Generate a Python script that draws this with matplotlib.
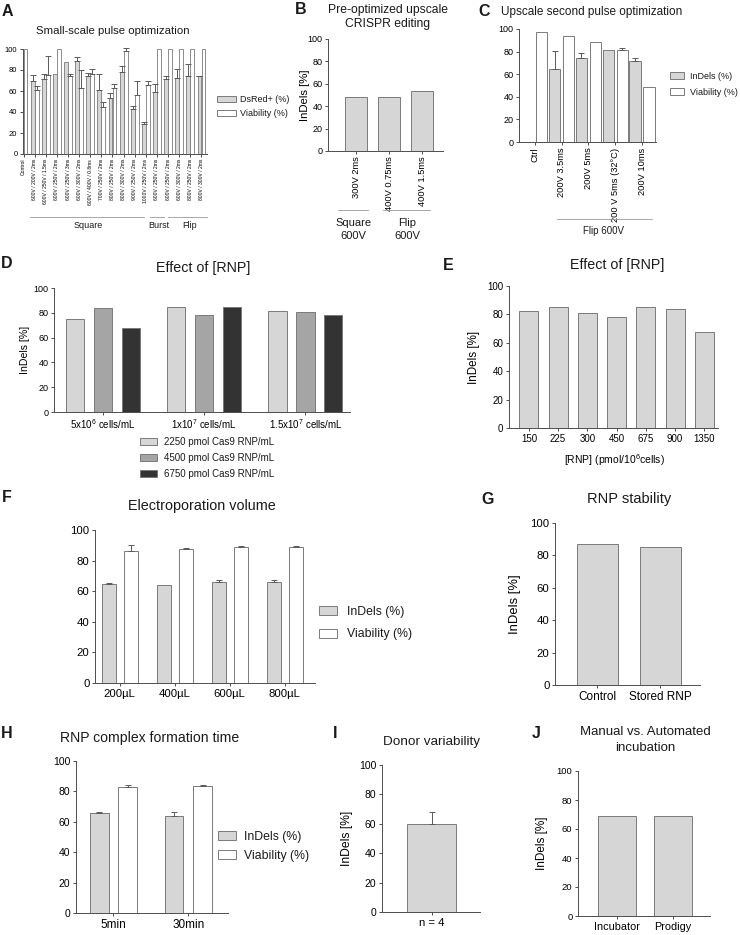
import matplotlib
matplotlib.use('Agg')
import matplotlib.pyplot as plt
import numpy as np
from matplotlib.transforms import blended_transform_factory
from matplotlib.patches import Patch
from matplotlib.lines import Line2D

plt.rcParams['font.family'] = ['Liberation Sans', 'DejaVu Sans']
plt.rcParams['mathtext.fontset'] = 'custom'
plt.rcParams['mathtext.rm'] = 'Liberation Sans'
plt.rcParams['mathtext.it'] = 'Liberation Sans:italic'
plt.rcParams['mathtext.bf'] = 'Liberation Sans:bold'
plt.rcParams['text.color'] = '#1a1a1a'

# ---------------- DATA ----------------
a_labels = ['Control', '600V / 200V / 2ms', '600V / 250V / 1.5ms', '600V / 250V / 2ms',
            '600V / 250V / 3ms', '600V / 300V / 2ms', '600V / 400V / 0.8ms', '700V / 250V / 2ms',
            '800V / 250V / 2ms', '800V / 300V / 2ms', '900V / 250V / 2ms', '1000V / 250V / 2ms',
            '600V / 250V / 2ms', '600V / 250V / 2ms', '600V / 300V / 2ms', '800V / 250V / 2ms',
            '800V / 300V / 2ms']
a_dsred = [np.nan, 70, 71, 76, 87.5, 88.5, 74, 61, 53, 78, 43, 29, 59, 71, 72, 74, 74]
a_dsred_err = [0, 5, 5, 0, 0, 4, 3, 15, 5, 6, 3, 1.5, 8, 3, 9, 12, 0.5]
a_via = [100, 61, 75, 100, 74, 63, 76, 45, 63, 98, 56, 66, 100, 100, 100, 100, 100]
a_via_err = [0, 4, 18, 0, 2, 17, 5, 5, 4, 3, 13.5, 4, 0, 0, 0, 0, 0]
a_groups = ['Square', 'Burst', 'Flip']

b_labels = ['300V 2ms', '400V 0.75ms', '400V 1.5ms']
b_indels = [48, 48, 53.6]
b_groups = ['Square\n600V', 'Flip\n600V']

c_labels = ['Ctrl', '200V 3.5ms', '200V 5ms', '200 V 5ms (32°C)', '200V 10ms']
c_indels = [np.nan, 64.6, 74.3, 81.7, 72]
c_indels_err = [0, 15.6, 4.5, 0, 2.3]
c_via = [97.3, 93.5, 88.2, 81.7, 48.7]
c_via_err = [0, 0, 0, 1.5, 0]
c_group = 'Flip 600V'

d_labels = ['5x10$^{6}$ cells/mL', '1x10$^{7}$ cells/mL', '1.5x10$^{7}$ cells/mL']
d_series = ['2250 pmol Cas9 RNP/mL', '4500 pmol Cas9 RNP/mL', '6750 pmol Cas9 RNP/mL']
d_2250 = [75, 84.9, 81.5]
d_4500 = [83.9, 78.5, 80.6]
d_6750 = [67.7, 84.7, 78.5]

e_labels = ['150', '225', '300', '450', '675', '900', '1350']
e_indels = [82.1, 84.9, 80.7, 77.9, 84.9, 83.5, 67.5]

f_labels = ['200µL', '400µL', '600µL', '800µL']
f_indels = [64.6, 63.9, 65.9, 65.9]
f_indels_err = [0.6, 0, 1.3, 1.3]
f_via = [86.1, 87.4, 88.7, 88.7]
f_via_err = [4.1, 0.9, 0.6, 0.6]

g_labels = ['Control', 'Stored RNP']
g_indels = [87, 84.9]

h_labels = ['5min', '30min']
h_indels = [65.5, 64]
h_indels_err = [0.7, 2.6]
h_via = [83.1, 83.5]
h_via_err = [1.3, 0.7]

i_labels = ['n = 4']
i_indels = [60.2]
i_indels_err = [7.5]

j_labels = ['Incubator', 'Prodigy']
j_indels = [69.2, 69.2]

# ---------------- STYLE ----------------
W, H = 740, 935
fig = plt.figure(figsize=(7.4, 9.35), dpi=100)

LIGHT = '#d6d6d6'
MID = '#a5a5a5'
DARK = '#333333'
EDGE = '#7a7a7a'
AXC = '#4d4d4d'
ERRC = '#5a5a5a'


def add_ax(l, t, r, b):
    return fig.add_axes([l / W, 1 - b / H, (r - l) / W, (b - t) / H])


def style(ax, xlim, tfs=6.5, xfs=7):
    ax.set_ylim(0, 100)
    ax.set_yticks(range(0, 101, 20))
    ax.set_xlim(*xlim)
    for s in ['top', 'right']:
        ax.spines[s].set_visible(False)
    for s in ['left', 'bottom']:
        ax.spines[s].set_color(AXC)
        ax.spines[s].set_linewidth(0.7)
    ax.tick_params(axis='both', direction='out', length=2.5, width=0.7, color=AXC, pad=1.5)
    ax.tick_params(axis='y', labelsize=tfs)
    ax.tick_params(axis='x', labelsize=xfs)
    ax.set_facecolor('none')


def ftext(x, y, s, fs, **kw):
    kw.setdefault('ha', 'center')
    kw.setdefault('va', 'center')
    fig.text(x / W, 1 - y / H, s, fontsize=fs, **kw)


def letter(x, y, s):
    ftext(x, y, s, 11.5, fontweight='bold')


def bars(ax, x, h, color, width, err=None, lw=0.7):
    ax.bar(x, h, width=width, color=color, edgecolor=EDGE, linewidth=lw, zorder=2)
    if err is not None:
        x = np.asarray(x, float)
        h = np.asarray(h, float)
        e = np.asarray(err, float)
        m = e > 0
        if m.any():
            ax.errorbar(x[m], h[m], yerr=[np.zeros(m.sum()), e[m]], fmt='none',
                        ecolor=ERRC, elinewidth=0.7, capsize=2.2, capthick=0.7,
                        zorder=3, clip_on=False)


def legend(ax, handles, labels, x, y, fs, spacing=0.5, hl=1.8, hh=0.8, tp=0.5):
    ax.legend(handles, labels, loc='upper left', bbox_to_anchor=(x / W, 1 - y / H),
              bbox_transform=fig.transFigure, frameon=False, borderpad=0, fontsize=fs,
              handlelength=hl, handleheight=hh, handletextpad=tp, labelspacing=spacing,
              borderaxespad=0)


def ylab(ax, s, x_px, left, width, fs):
    ax.set_ylabel(s, fontsize=fs)
    ax.yaxis.set_label_coords((x_px - left) / width, 0.5)


def patch(c):
    return Patch(facecolor=c, edgecolor=EDGE, linewidth=0.7)


# ---------------- A ----------------
axA = add_ax(23, 49, 207, 154)
xa = np.arange(len(a_labels))
bars(axA, xa - 0.18, a_dsred, LIGHT, 0.34, a_dsred_err, lw=0.6)
bars(axA, xa + 0.18, a_via, 'white', 0.34, a_via_err, lw=0.6)
style(axA, (-0.05, 16.5), tfs=5.5)
axA.set_xticks(xa)
axA.set_xticklabels(a_labels, rotation=90, fontsize=3.6)
axA.tick_params(axis='x', length=2, pad=1.5)
trA = blended_transform_factory(axA.transData, axA.transAxes)
for (x0, x1), lab, xc in zip([(0.6, 10.8), (11.4, 12.6), (12.95, 16.5)], a_groups, [5.8, 12.2, 14.9]):
    axA.add_line(Line2D([x0, x1], [-0.6, -0.6], transform=trA, color='#9a9a9a', lw=0.6, clip_on=False))
    axA.text(xc, -0.68, lab, transform=trA, ha='center', va='center', fontsize=6.5)
legend(axA, [patch(LIGHT), patch('white')], ['DsRed+ (%)', 'Viability (%)'], 217, 95, 6.5,
       spacing=0.55, hl=2.1, hh=0.75, tp=0.4)
letter(7, 11, 'A')
ftext(113, 31, 'Small-scale pulse optimization', 8.2)

# ---------------- B ----------------
axB = add_ax(328, 39, 443, 151)
xb = np.arange(len(b_labels))
bars(axB, xb, b_indels, LIGHT, 0.68)
style(axB, (-0.85, 2.63), tfs=6.5)
axB.set_xticks(xb)
axB.set_xticklabels(b_labels, rotation=90, fontsize=6.7)
ylab(axB, 'InDels [%]', 310, 328, 115, 8.2)
trB = blended_transform_factory(axB.transData, axB.transAxes)
for (x0, x1), lab, xc in zip([(-0.55, 0.36), (0.82, 2.24)], b_groups, [-0.09, 1.55]):
    axB.add_line(Line2D([x0, x1], [-0.527, -0.527], transform=trB, color='#9a9a9a', lw=0.6, clip_on=False))
    axB.text(xc, -0.70, lab, transform=trB, ha='center', va='center', fontsize=8, linespacing=1.3)
letter(301, 10, 'B')
ftext(388, 10.5, 'Pre-optimized upscale', 8.7)
ftext(388, 23.5, 'CRISPR editing', 8.7)

# ---------------- C ----------------
axC = add_ax(519, 29, 656, 142)
xc_ = np.arange(len(c_labels))
bars(axC, xc_ - 0.26, c_indels, LIGHT, 0.42, c_indels_err)
bars(axC, xc_ + 0.26, c_via, 'white', 0.42, c_via_err)
style(axC, (-0.59, 4.52), tfs=6.5)
axC.set_xticks(xc_)
axC.set_xticklabels(c_labels, rotation=90, fontsize=6.7)
trC = blended_transform_factory(axC.transData, axC.transAxes)
axC.add_line(Line2D([0.81, 4.37], [-0.68, -0.68], transform=trC, color='#9a9a9a', lw=0.6, clip_on=False))
axC.text(2.55, -0.79, c_group, transform=trC, ha='center', va='center', fontsize=7)
legend(axC, [patch(LIGHT), patch('white')], ['InDels (%)', 'Viability (%)'], 670, 72, 6.5,
       spacing=0.75, hl=1.6, hh=0.8, tp=0.6)
letter(484, 12, 'C')
ftext(592, 12.5, 'Upscale second pulse optimization', 8.5)

# ---------------- D ----------------
axD = add_ax(54, 288, 350, 412)
xd = np.arange(len(d_labels))
bars(axD, xd - 0.276, d_2250, LIGHT, 0.18)
bars(axD, xd, d_4500, MID, 0.18)
bars(axD, xd + 0.276, d_6750, DARK, 0.18)
style(axD, (-0.48, 2.44), tfs=6.5)
axD.set_xticks(xd)
axD.set_xticklabels(d_labels, fontsize=7)
ylab(axD, 'InDels [%]', 30, 54, 296, 7.6)
legend(axD, [patch(LIGHT), patch(MID), patch(DARK)], d_series, 140, 437, 7,
       spacing=0.6, hl=1.7, hh=0.8, tp=0.8)
letter(7, 264, 'D')
ftext(203, 268, 'Effect of [RNP]', 10.3)

# ---------------- E ----------------
axE = add_ax(509, 286, 718, 428)
xe = np.arange(len(e_labels))
bars(axE, xe, e_indels, LIGHT, 0.65)
style(axE, (-0.68, 6.47), tfs=7)
axE.set_xticks(xe)
axE.set_xticklabels(e_labels, fontsize=7)
axE.set_xlabel('[RNP] (pmol/10$^{6}$cells)', fontsize=7.5)
axE.xaxis.set_label_coords(0.507, -0.17)
ylab(axE, 'InDels [%]', 480, 509, 209, 8.4)
letter(448, 266, 'E')
ftext(617, 265, 'Effect of [RNP]', 10.3)

# ---------------- F ----------------
axF = add_ax(95, 530, 315, 683)
xf = np.arange(len(f_labels))
bars(axF, xf - 0.2, f_indels, LIGHT, 0.25, f_indels_err)
bars(axF, xf + 0.2, f_via, 'white', 0.25, f_via_err)
style(axF, (-0.45, 3.55), tfs=8.2)
axF.set_xticks(xf)
axF.set_xticklabels(f_labels, fontsize=8.2)
legend(axF, [patch(LIGHT), patch('white')], ['InDels (%)', 'Viability (%)'], 319, 606, 8.8,
       spacing=0.85, hl=1.5, hh=0.75, tp=0.8)
letter(7, 498, 'F')
ftext(202, 506, 'Electroporation volume', 10.4)

# ---------------- G ----------------
axG = add_ax(555, 523, 700, 685)
xg = np.arange(len(g_labels))
bars(axG, xg, g_indels, LIGHT, 0.65)
style(axG, (-0.67, 1.63), tfs=8.2)
axG.set_xticks(xg)
axG.set_xticklabels(g_labels, fontsize=8.5)
ylab(axG, 'InDels [%]', 521, 555, 145, 9.4)
letter(488, 499, 'G')
ftext(629, 499, 'RNP stability', 10.5)

# ---------------- H ----------------
axH = add_ax(76, 761, 228, 913)
xh = np.arange(len(h_labels))
bars(axH, xh - 0.19, h_indels, LIGHT, 0.25, h_indels_err)
bars(axH, xh + 0.19, h_via, 'white', 0.25, h_via_err)
style(axH, (-0.5, 1.53), tfs=7.5)
axH.set_xticks(xh)
axH.set_xticklabels(h_labels, fontsize=8.5)
legend(axH, [patch(LIGHT), patch('white')], ['InDels (%)', 'Viability (%)'], 218, 831, 8.8,
       spacing=0.55, hl=1.5, hh=0.75, tp=0.6)
letter(7, 734, 'H')
ftext(150, 738, 'RNP complex formation time', 10.1)

# ---------------- I ----------------
axI = add_ax(382, 765, 480, 912)
xi = np.arange(len(i_labels))
bars(axI, xi, i_indels, LIGHT, 0.5, i_indels_err)
style(axI, (-0.51, 0.49), tfs=7.5)
axI.set_xticks(xi)
axI.set_xticklabels(i_labels, fontsize=8.2)
ylab(axI, 'InDels [%]', 353, 382, 98, 8.7)
letter(335, 734, 'I')
ftext(431, 742, 'Donor variability', 9.7)

# ---------------- J ----------------
axJ = add_ax(578, 771, 710, 916)
xj = np.arange(len(j_labels))
bars(axJ, xj, j_indels, LIGHT, 0.68)
style(axJ, (-0.7, 1.66), tfs=6.8)
axJ.set_xticks(xj)
axJ.set_xticklabels(j_labels, fontsize=7.8)
ylab(axJ, 'InDels [%]', 548, 578, 132, 8.5)
letter(536, 734, 'J')
ftext(645, 732, 'Manual vs. Automated', 9.5)
ftext(645, 748, 'incubation', 9.5)

fig.savefig('out.png', dpi=100, facecolor='white')
